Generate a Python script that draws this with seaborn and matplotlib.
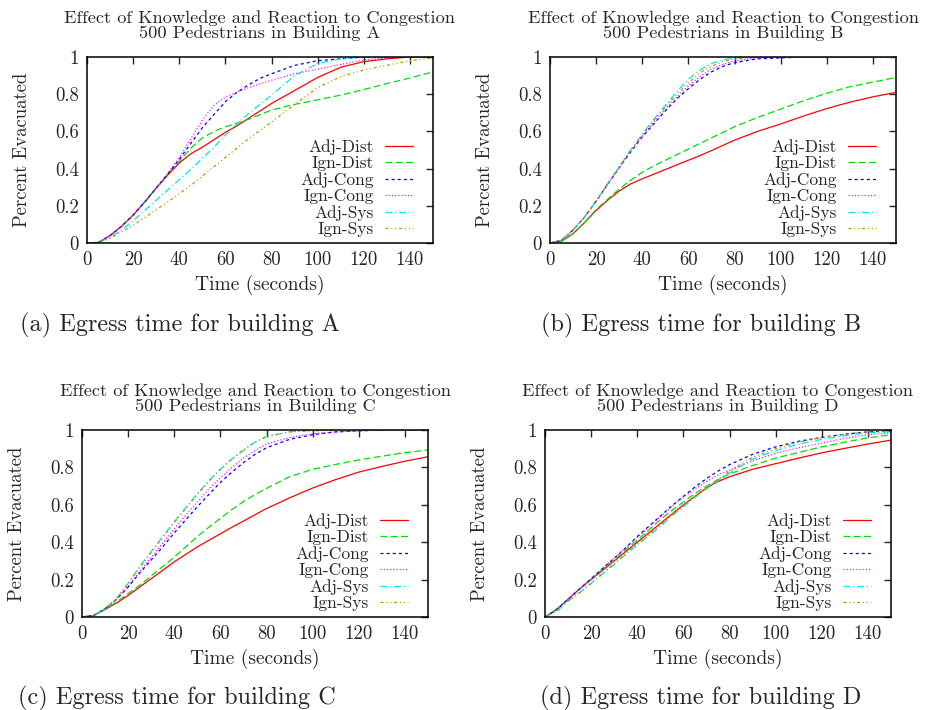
import matplotlib
matplotlib.use("Agg")
import matplotlib.pyplot as plt
import pandas as pd
import seaborn as sns

# Sample times (seconds) shared by every curve
TIME = [0, 5, 10, 15, 20, 25, 30, 35, 40, 45, 50, 55, 60, 65, 70, 75, 80,
        90, 100, 110, 120, 130, 140, 150]

SERIES = ["Adj-Dist", "Ign-Dist", "Adj-Cong", "Ign-Cong", "Adj-Sys", "Ign-Sys"]

# Fraction of the 500 pedestrians evacuated, per building and strategy
building_a = {
    "Adj-Dist": [0, .003, .04, .09, .15, .22, .295, .365, .43, .48, .515, .555, .595, .63, .67, .71, .75, .82, .89, .945, .975, .99, 1.0, 1.0],
    "Ign-Dist": [0, .003, .04, .09, .15, .22, .295, .37, .44, .51, .565, .60, .625, .645, .665, .69, .715, .745, .77, .795, .825, .857, .887, .92],
    "Adj-Cong": [0, .003, .04, .09, .15, .22, .295, .37, .45, .535, .62, .69, .76, .81, .85, .885, .91, .955, .98, .99, 1.0, 1.0, 1.0, 1.0],
    "Ign-Cong": [0, .003, .04, .09, .15, .22, .295, .375, .46, .56, .66, .74, .785, .81, .835, .855, .875, .91, .935, .96, .985, .995, 1.0, 1.0],
    "Adj-Sys":  [0, .003, .03, .07, .12, .175, .23, .285, .34, .395, .455, .515, .58, .64, .695, .745, .795, .90, .965, .99, 1.0, 1.0, 1.0, 1.0],
    "Ign-Sys":  [0, .003, .025, .06, .095, .135, .18, .22, .265, .31, .36, .41, .46, .51, .56, .605, .65, .745, .835, .895, .93, .955, .98, .995],
}
building_b = {
    "Adj-Dist": [0, .01, .05, .11, .175, .23, .28, .318, .345, .37, .395, .42, .445, .47, .497, .525, .553, .60, .64, .683, .723, .757, .786, .81],
    "Ign-Dist": [0, .01, .05, .11, .18, .235, .29, .338, .38, .415, .445, .475, .505, .535, .565, .595, .625, .675, .72, .765, .805, .84, .865, .89],
    "Adj-Cong": [0, .015, .07, .14, .225, .315, .405, .49, .57, .64, .71, .775, .83, .88, .92, .95, .97, .99, .995, 1.0, 1.0, 1.0, 1.0, 1.0],
    "Ign-Cong": [0, .015, .07, .14, .225, .315, .405, .495, .575, .65, .72, .785, .845, .895, .935, .96, .98, .995, 1.0, 1.0, 1.0, 1.0, 1.0, 1.0],
    "Adj-Sys":  [0, .015, .07, .14, .225, .32, .41, .50, .585, .665, .74, .815, .88, .93, .965, .985, .995, 1.0, 1.0, 1.0, 1.0, 1.0, 1.0, 1.0],
    "Ign-Sys":  [0, .015, .07, .14, .225, .32, .41, .50, .58, .66, .73, .80, .86, .915, .95, .975, .99, 1.0, 1.0, 1.0, 1.0, 1.0, 1.0, 1.0],
}
building_c = {
    "Adj-Dist": [0, .008, .04, .075, .115, .16, .205, .25, .295, .335, .375, .41, .445, .48, .513, .547, .58, .637, .69, .735, .775, .805, .833, .857],
    "Ign-Dist": [0, .008, .04, .08, .125, .17, .22, .27, .32, .375, .43, .48, .527, .575, .617, .655, .688, .75, .79, .816, .84, .86, .879, .893],
    "Adj-Cong": [0, .008, .045, .095, .16, .235, .305, .375, .45, .52, .59, .655, .72, .775, .825, .87, .905, .95, .975, .99, .995, 1.0, 1.0, 1.0],
    "Ign-Cong": [0, .008, .045, .095, .165, .245, .32, .395, .47, .545, .615, .685, .745, .80, .85, .89, .925, .96, .98, .99, .995, 1.0, 1.0, 1.0],
    "Adj-Sys":  [0, .008, .045, .10, .18, .27, .35, .43, .51, .585, .66, .73, .79, .845, .89, .935, .965, .99, 1.0, 1.0, 1.0, 1.0, 1.0, 1.0],
    "Ign-Sys":  [0, .008, .045, .10, .18, .265, .345, .425, .505, .58, .655, .725, .79, .845, .895, .935, .965, .99, .995, 1.0, 1.0, 1.0, 1.0, 1.0],
}
building_d = {
    "Adj-Dist": [0, .04, .095, .15, .2, .25, .3, .35, .4, .45, .5, .55, .6, .645, .69, .725, .75, .79, .82, .85, .878, .902, .925, .946],
    "Ign-Dist": [0, .04, .095, .15, .2, .255, .305, .36, .41, .465, .52, .57, .615, .66, .70, .735, .765, .81, .85, .88, .91, .935, .958, .975],
    "Adj-Cong": [0, .04, .095, .15, .205, .26, .315, .37, .43, .485, .54, .595, .645, .695, .74, .78, .815, .87, .91, .94, .96, .978, .99, .995],
    "Ign-Cong": [0, .04, .095, .15, .205, .26, .315, .37, .425, .48, .535, .59, .64, .685, .725, .76, .785, .835, .875, .905, .93, .955, .975, .985],
    "Adj-Sys":  [0, .03, .085, .13, .18, .23, .28, .335, .385, .435, .485, .54, .59, .64, .685, .73, .77, .845, .89, .925, .95, .97, .985, .99],
    "Ign-Sys":  [0, .03, .085, .13, .18, .235, .285, .34, .39, .44, .49, .545, .595, .645, .69, .735, .78, .855, .90, .935, .96, .978, .99, .995],
}

BUILDINGS = ["A", "B", "C", "D"]
PANEL_LETTERS = ["a", "b", "c", "d"]
XTICKS = [0, 20, 40, 60, 80, 100, 120, 140]
YTICKS = [0, 0.2, 0.4, 0.6, 0.8, 1.0]
YTICK_LABELS = ["0", "0.2", "0.4", "0.6", "0.8", "1"]

COLORS = {
    "Adj-Dist": "#ff0000",
    "Ign-Dist": "#00e000",
    "Adj-Cong": "#0000ff",
    "Ign-Cong": "#ff00ff",
    "Adj-Sys": "#00e8e8",
    "Ign-Sys": "#a8a000",
}
DASHES = {
    "Adj-Dist": "",
    "Ign-Dist": (5.0, 2.4),
    "Adj-Cong": (2.2, 2.2),
    "Ign-Cong": (0.8, 1.5),
    "Adj-Sys": (5.0, 2.0, 0.8, 2.0),
    "Ign-Sys": (2.2, 2.0, 0.8, 2.0, 0.8, 2.0),
}

sns.set_style("white")
plt.rcParams.update({
    "font.family": ["cmr10", "DejaVu Serif"],
    "axes.formatter.use_mathtext": True,
    "axes.unicode_minus": False,
    "lines.scale_dashes": False,
    "axes.edgecolor": "black",
    "axes.linewidth": 1.1,
})

W, H = 931, 710
fig = plt.figure(figsize=(W / 100, H / 100), dpi=100)

# axes boxes in pixels: left, top, width, height
boxes = [(87, 57, 346, 186), (550, 57, 346, 186),
         (82, 430, 346, 187), (545, 430, 346, 187)]
captions = [(180, 325), (701, 325), (177, 698), (701, 698)]

for data, bname, letter, (l, t, w, h), (cx, cy) in zip(
        [building_a, building_b, building_c, building_d], BUILDINGS,
        PANEL_LETTERS, boxes, captions):
    ax = fig.add_axes([l / W, 1 - (t + h) / H, w / W, h / H])
    df = pd.DataFrame(
        [(tm, v, s) for s in SERIES for tm, v in zip(TIME, data[s])],
        columns=["time", "evacuated", "strategy"],
    )
    sns.lineplot(data=df, x="time", y="evacuated", hue="strategy",
                 style="strategy", hue_order=SERIES, style_order=SERIES,
                 palette=COLORS, dashes=DASHES, linewidth=0.9, ax=ax)
    ax.set_xlim(0, 150)
    ax.set_ylim(0, 1)
    ax.set_xticks(XTICKS)
    ax.set_xticklabels([str(v) for v in XTICKS])
    ax.set_yticks(YTICKS)
    ax.set_yticklabels(YTICK_LABELS)
    ax.tick_params(direction="in", top=True, right=True, length=5,
                   width=1.0, labelsize=13.5, pad=6)
    ax.set_xlabel("Time (seconds)", fontsize=14, labelpad=4)
    ax.set_ylabel("Percent Evacuated", fontsize=13.5, labelpad=17)
    ax.set_title("Effect of Knowledge and Reaction to Congestion\n"
                 f"500 Pedestrians in Building {bname}",
                 fontsize=13.2, linespacing=0.9, pad=14)

    old = ax.get_legend()
    handles = old.legend_handles
    labels = [tx.get_text() for tx in old.get_texts()]
    old.remove()
    ax.legend(handles, labels, loc="lower right",
              bbox_to_anchor=(1 - 20 / w, 6 / h), borderaxespad=0,
              borderpad=0, markerfirst=False, frameon=False, fontsize=12.5,
              handlelength=1.6, handletextpad=0.65, labelspacing=0.05)

    fig.text(cx / W, 1 - cy / H, f"({letter}) Egress time for building {bname}",
             ha="center", va="center", fontsize=17.5)

fig.savefig("out.png", dpi=100)
